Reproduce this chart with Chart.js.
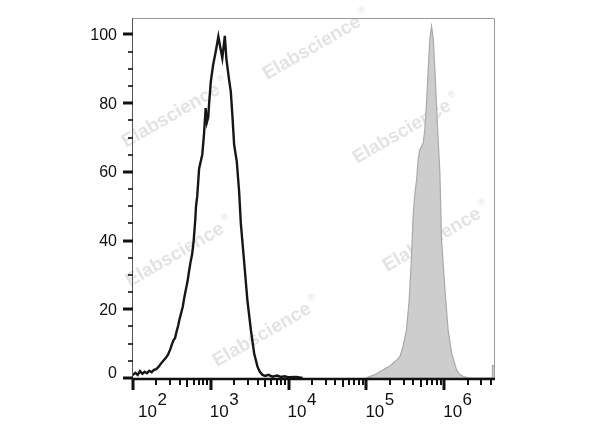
<!DOCTYPE html>
<html>
<head>
<meta charset="utf-8">
<script src="https://cdn.jsdelivr.net/npm/chart.js@4/dist/chart.umd.min.js"></script>
<style>
html,body{margin:0;padding:0;background:#fff;}
#wrap{width:600px;height:427px;}
</style>
</head>
<body>
<div id="wrap"><canvas id="c" width="600" height="427"></canvas></div>
<script>
// x values are log10 of fluorescence (decades)
const blackX = [1.99,2.03,2.06,2.09,2.12,2.15,2.18,2.21,2.24,2.27,2.30,2.33,2.36,2.39,2.42,2.45,2.48,2.50,2.52,2.54,2.56,2.58,2.60,2.62,2.64,2.66,2.68,2.70,2.72,2.74,2.76,2.78,2.80,2.81,2.825,2.85,2.89,2.912,2.934,2.95,2.968,2.977,3.00,3.03,3.063,3.097,3.12,3.148,3.18,3.20,3.235,3.257,3.277,3.30,3.334,3.364,3.386,3.43,3.47,3.515,3.557,3.60,3.63,3.665,3.70,3.74,3.79,3.85,3.90,3.95,4.00,4.10,4.18];
const blackY = [0.8,1.5,0.9,2.0,1.2,1.8,1.4,2.1,1.7,2.4,2.6,3.3,4.2,5.0,5.8,6.8,8.4,9.8,11.0,11.6,13.5,15.2,17.3,19.0,20.8,23.5,25.8,28.0,31.0,33.8,36.0,40.0,46.0,50.0,52.8,61.0,65.0,70.8,78.6,74.5,76.0,79.5,86.3,91.2,95.0,99.4,96.5,93.1,99.6,93.0,86.8,83.4,76.6,67.9,63.0,54.3,45.0,33.4,22.7,14.0,7.2,3.3,1.8,0.9,0.6,0.9,0.4,0.7,0.3,0.5,0.2,0.3,0.0];
const grayX = [5.00,5.04,5.10,5.15,5.18,5.213,5.25,5.28,5.31,5.34,5.38,5.43,5.47,5.515,5.55,5.58,5.60,5.62,5.645,5.665,5.686,5.73,5.75,5.773,5.794,5.815,5.837,5.86,5.88,5.90,5.92,5.944,5.955,5.966,6.01,6.05,6.095,6.16,6.20,6.245,6.30,6.35,6.615,6.62,6.64];
const grayY = [0,0.4,0.9,1.5,1.9,2.3,2.9,3.2,3.6,4.3,5.0,6.2,9.1,14.0,22.7,35.3,47.0,53.0,57.7,63.5,66.4,68.4,72.2,80.0,89.7,98.5,102.3,98.5,89.7,80.0,70.3,60.0,50.0,40.2,25.6,14.0,7.2,2.3,1.0,0.4,0.1,0,0,3.6,3.6];
const xDecades = [2,3,4,5,6];
const yTickValues = [0,20,40,60,80,100];
const yMinorStep = 5;
const watermarkText = "Elabscience";

const X_MIN = 2.0, X_MAX = 6.64, Y_MIN = 0, Y_MAX = 104.8;

function pts(xs, ys){ return xs.map((x,i)=>({x:x, y:ys[i]})); }

const axesPlugin = {
  id:'axesPlugin',
  beforeDatasetsDraw(chart){
    const ctx = chart.ctx;
    const wm = [[312,48],[171,116],[402,132],[175,255],[432,240],[262,335]];
    ctx.save();
    ctx.fillStyle = 'rgba(200,200,200,0.5)';
    ctx.font = 'bold 19px "Liberation Sans", Arial, sans-serif';
    ctx.textAlign = 'center';
    ctx.textBaseline = 'middle';
    wm.forEach(([cx,cy])=>{
      ctx.save();
      ctx.translate(cx,cy);
      ctx.rotate(-30*Math.PI/180);
      ctx.fillText(watermarkText, 0, 0);
      ctx.font = 'bold 9px "Liberation Sans", Arial, sans-serif';
      ctx.fillText('®', 62, -8);
      ctx.restore();
    });
    ctx.restore();
  },
  afterDatasetsDraw(chart){
    const ctx = chart.ctx;
    const a = chart.chartArea;
    const xs = chart.scales.x, ys = chart.scales.y;
    ctx.save();
    ctx.strokeStyle = '#9a9a9a';
    ctx.lineWidth = 1;
    ctx.beginPath();
    ctx.moveTo(a.left, a.top+0.5); ctx.lineTo(a.right+0.5, a.top+0.5); ctx.lineTo(a.right+0.5, a.bottom);
    ctx.stroke();
    ctx.strokeStyle = '#555';
    ctx.beginPath();
    ctx.moveTo(a.left-0.5, a.top); ctx.lineTo(a.left-0.5, a.bottom);
    ctx.stroke();
    ctx.strokeStyle = '#111';
    for(let v=Y_MIN; v<=100; v+=yMinorStep){
      const py = Math.round(ys.getPixelForValue(v));
      const major = yTickValues.includes(v);
      ctx.lineWidth = major ? 3 : 1.6;
      ctx.beginPath();
      ctx.moveTo(a.left - (major?10:5), py); ctx.lineTo(a.left, py);
      ctx.stroke();
    }
    ctx.fillStyle = '#111';
    ctx.font = '16px "Liberation Sans", Arial, sans-serif';
    ctx.textAlign = 'right';
    ctx.textBaseline = 'middle';
    yTickValues.forEach(v=>{
      let py = ys.getPixelForValue(v);
      if(v===0) py -= 5;
      ctx.fillText(String(v), a.left-16, py+1);
    });
    ctx.strokeStyle = '#111';
    ctx.lineWidth = 2.5;
    ctx.beginPath();
    ctx.moveTo(a.left-1, a.bottom+1); ctx.lineTo(a.right+1, a.bottom+1);
    ctx.stroke();
    for(let d=2; d<=6; d++){
      for(let m=1; m<=9; m++){
        const v = d + Math.log10(m);
        if(v > X_MAX) break;
        const px = Math.round(xs.getPixelForValue(v));
        const len = m===1 ? 11 : (m===5 ? 8 : 6);
        ctx.lineWidth = m===1 ? 3 : 2;
        ctx.beginPath();
        ctx.moveTo(px, a.bottom+1); ctx.lineTo(px, a.bottom+1+len);
        ctx.stroke();
      }
    }
    ctx.textAlign = 'left';
    ctx.textBaseline = 'alphabetic';
    xDecades.forEach(d=>{
      let px = xs.getPixelForValue(d) - 1;
      if(d===2) px += 6;
      ctx.font = '17px "Liberation Sans", Arial, sans-serif';
      ctx.fillText('10', px, 417);
      const w = ctx.measureText('10').width;
      ctx.fillText(String(d), px + w + 0.5, 405);
    });
    ctx.restore();
  }
};

new Chart(document.getElementById('c'), {
  type:'line',
  data:{
    datasets:[
      {
        label:'Unstained',
        data: pts(blackX, blackY),
        borderColor:'#161616',
        borderWidth:2.4,
        pointRadius:0,
        fill:false,
        tension:0
      },
      {
        label:'Stained',
        data: pts(grayX, grayY),
        borderColor:'#a9a9a9',
        backgroundColor:'#cdcdcd',
        borderWidth:1.2,
        pointRadius:0,
        fill:'origin',
        tension:0
      }
    ]
  },
  options:{
    responsive:false,
    animation:false,
    devicePixelRatio:1,
    layout:{padding:{left:133, right:106, top:18, bottom:49}},
    plugins:{legend:{display:false}, tooltip:{enabled:false}},
    scales:{
      x:{type:'linear', min:X_MIN, max:X_MAX, display:false},
      y:{type:'linear', min:Y_MIN, max:Y_MAX, display:false}
    }
  },
  plugins:[axesPlugin]
});
</script>
</body>
</html>
